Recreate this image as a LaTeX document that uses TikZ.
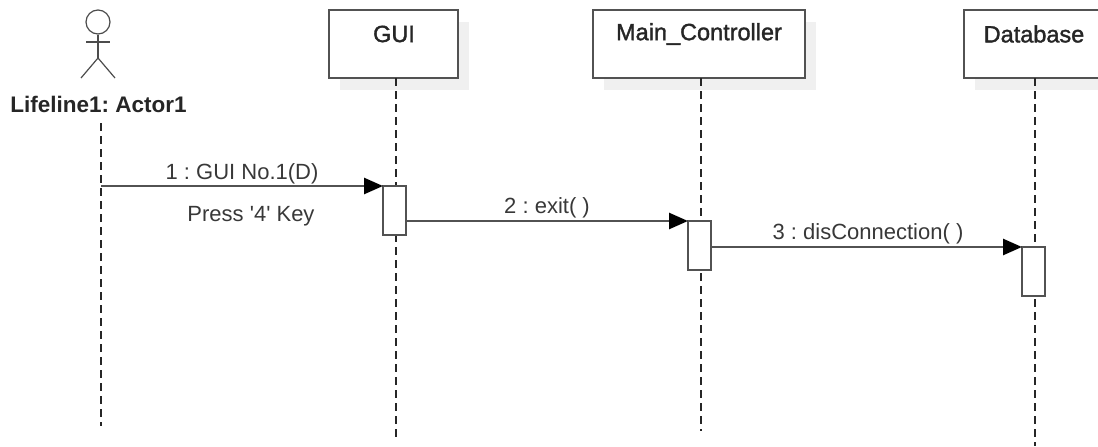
\documentclass[tikz,border=0pt]{standalone}
\usepackage{fontspec}
\setmainfont{Liberation Sans}
\newfontfamily\titlefont[FakeBold=1.5]{Liberation Sans}
\newfontfamily\plainfont{Liberation Sans}
\frenchspacing
\usetikzlibrary{arrows.meta,shadows}
\begin{document}
\begin{tikzpicture}[x=1pt,y=-1pt]
            \tikzstyle{life box}=[draw=black!68,line width=2.4pt,fill=white,minimum height=68pt,inner sep=0,outer sep=0,drop shadow={shadow xshift=11pt,shadow yshift=-12pt,fill=black!6,opacity=1}]
            \tikzstyle{box title}=[text=black!85,font=\titlefont\fontsize{23.5}{25}\selectfont,inner sep=0]
            \tikzstyle{active box}=[draw=black!68,line width=2.4pt,fill=white,minimum width=23pt,minimum height=49pt,inner sep=0,outer sep=0]
            \tikzstyle{life line}=[black!85,line width=1.8pt,dash pattern=on 8pt off 5pt]
            \tikzstyle{message}=[black!68,line width=2.6pt,-{Triangle[black,length=19pt,width=16pt]}]
            \tikzstyle{message text}=[text=black!78,font=\plainfont\fontsize{22}{24}\selectfont,inner sep=0]
            \tikzstyle{stick}=[black!70,line width=1.2pt]

            \useasboundingbox (0,0) rectangle (1098,447);

            \node(gui)[life box,minimum width=129pt] at (393.5,44){};
            \node(controller)[life box,minimum width=212pt] at (699,44){};
            \node(database)[life box,minimum width=170pt] at (1049,44){};
            \node(guititle)[box title] at (394,34){GUI};
            \node(controllertitle)[box title] at (699,34){Main\_Controller};
            \node(databasetitle)[box title] at (1034,34){Database};

            \node(head)[circle,draw=black!70,line width=1.2pt,minimum size=24pt,inner sep=0] at (98,22){};
            \coordinate(armleft) at (86,42);
            \coordinate(armright) at (110,42);
            \coordinate(hip) at (98,58);
            \coordinate(legleft) at (81,78);
            \coordinate(legright) at (115,78);
            \draw[stick] (head.south) -- (hip);
            \draw[stick] (armleft) -- (armright);
            \draw[stick] (legleft) -- (hip) -- (legright);
            \node(actor)[text=black!85,font=\fontsize{22.5}{24}\selectfont\bfseries,inner sep=0] at (98.5,104){Lifeline1: Actor1};

            \coordinate(actortop) at (101,123);
            \coordinate(actorend) at (101,426);
            \coordinate(guitop) at (396,78);
            \coordinate(guiend) at (396,441);
            \coordinate(controllertop) at (701,78);
            \coordinate(controllerend) at (701,431);
            \coordinate(databasetop) at (1035,78);
            \coordinate(databaseend) at (1035,446);
            \draw[life line] (actortop) -- (actorend);
            \draw[life line] (guitop) -- (guiend);
            \draw[life line] (controllertop) -- (controllerend);
            \draw[life line] (databasetop) -- (databaseend);

            \node(active1)[active box] at (394.5,210.5){};
            \node(active2)[active box] at (699.5,245.5){};
            \node(active3)[active box] at (1033.5,271.5){};

            \coordinate(start1) at (101,186);
            \draw[message] (start1) -- (active1.north west);
            \draw[message] (active1.east |- active2.north) -- (active2.north west);
            \draw[message] (active2.east |- active3.north) -- (active3.north west);

            \node(text1)[message text] at (242,174){1 : GUI No.1(D)};
            \node(note1)[message text] at (251,216){Press '4' Key};
            \node(text2)[message text] at (547,208){2 : exit( )};
            \node(text3)[message text] at (868,234){3 : disConnection( )};
        \end{tikzpicture}
\end{document}
